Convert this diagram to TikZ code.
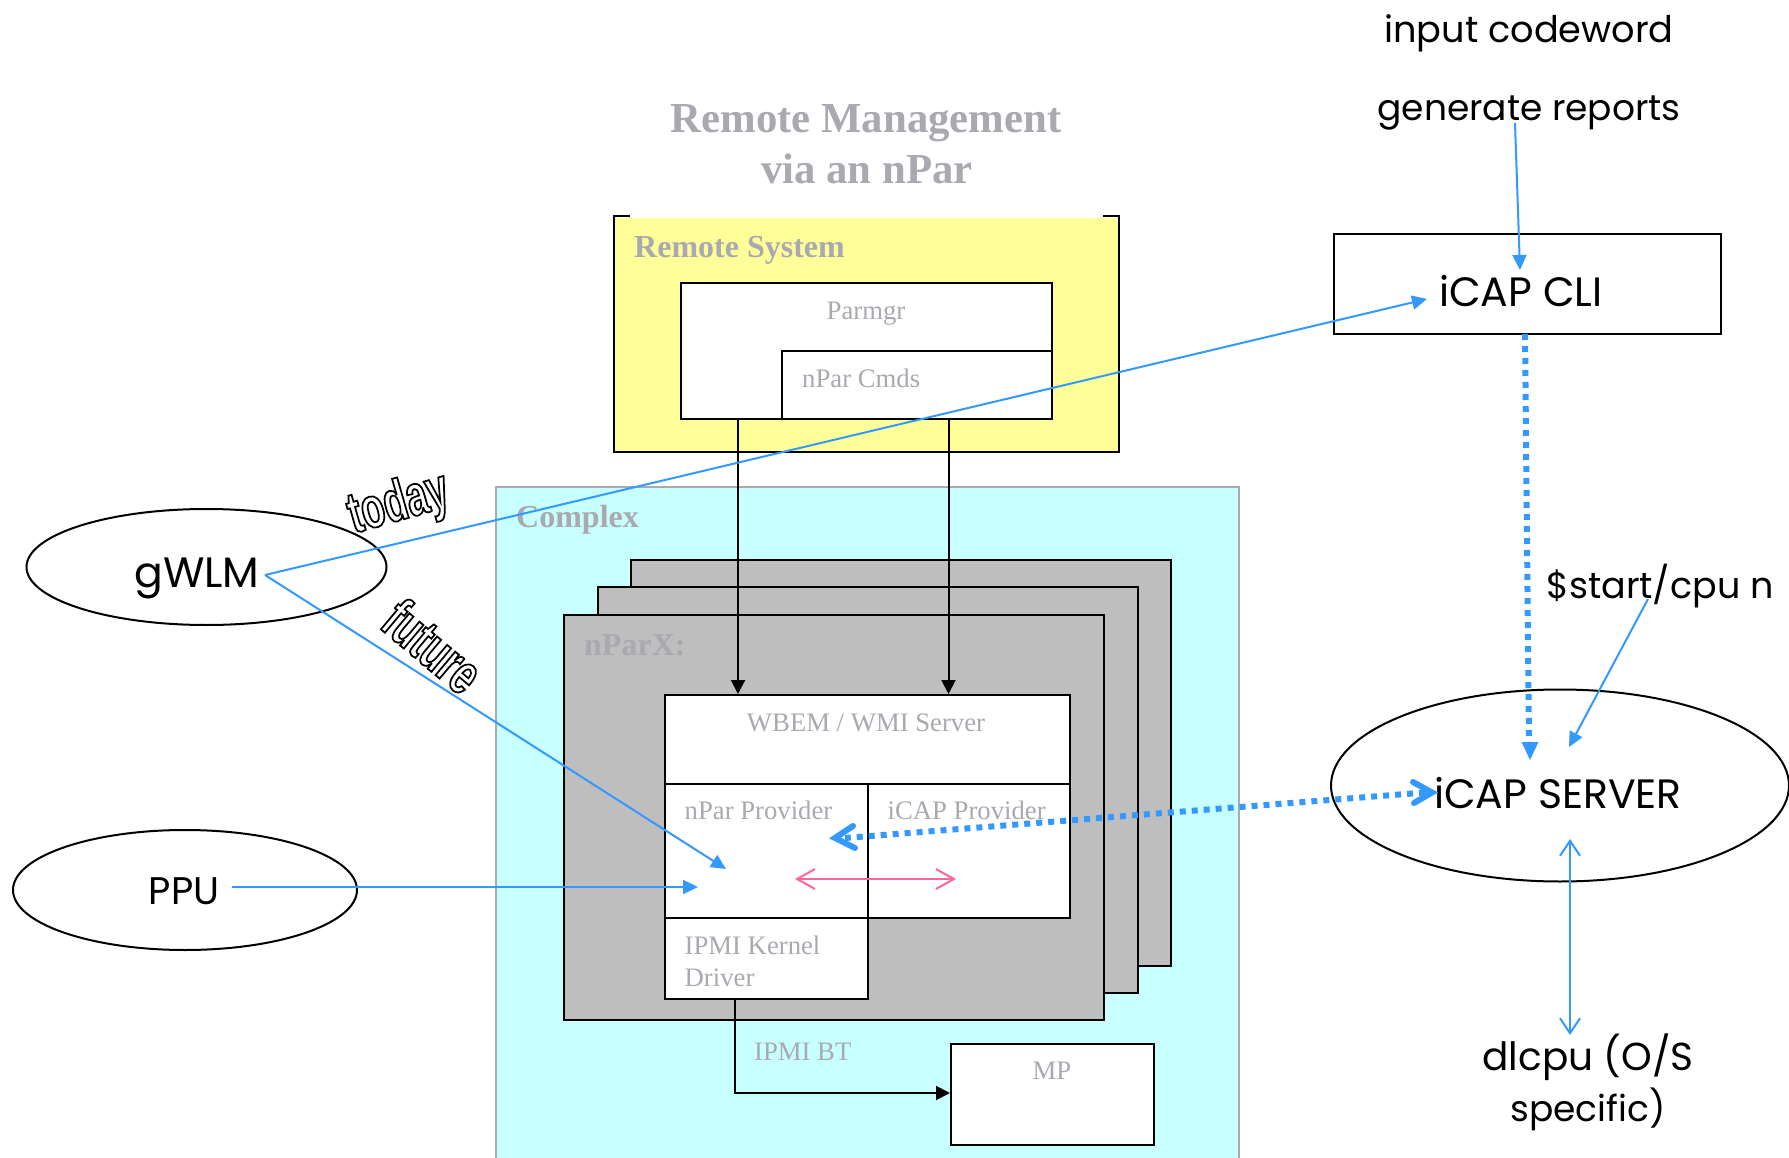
\documentclass[tikz,border=0pt]{standalone}
\usepackage{fontspec}
\setmainfont{Liberation Serif}
\newfontfamily\futfont{Poppins}
\newfontfamily\wordart[FakeBold=3,FakeStretch=0.66]{Liberation Sans Bold}
\usetikzlibrary{shapes.geometric,arrows.meta}
\definecolor{lblgray}{HTML}{A9A9B0}
\definecolor{arrblue}{HTML}{3399FF}
\definecolor{pinkline}{HTML}{FF6699}
\definecolor{cyanfill}{HTML}{C8FFFF}
\definecolor{yellowfill}{HTML}{FFFF99}
\definecolor{stackgray}{HTML}{BEBEBE}
\tikzset{
  rbox/.style={draw=black,line width=2pt,fill=white,rectangle,inner sep=0pt,anchor=north west},
  stackbox/.style={rbox,fill=stackgray},
  oval/.style={draw=black,line width=2pt,fill=none,ellipse,inner sep=0pt},
  small/.style={text=lblgray,font=\fontsize{26.7}{30}\selectfont,anchor=base west,inner sep=0pt},
  smallc/.style={small,anchor=base},
  heading/.style={text=lblgray,font=\fontsize{32}{36}\selectfont\bfseries,anchor=base west,inner sep=0pt},
  titletext/.style={text=lblgray,font=\fontsize{42.8}{48}\selectfont\bfseries,anchor=base,inner sep=0pt},
  big/.style={text=black,font=\fontsize{38}{44}\futfont,anchor=base,inner sep=0pt},
  outl/.style={inner sep=0pt,font=\fontsize{58}{60}\wordart},
  solidtip/.style={-{Triangle[length=15pt,width=14pt]}},
  blueln/.style={draw=arrblue,line width=2pt,solidtip},
  blackln/.style={draw=black,line width=2pt,-{Triangle[length=14pt,width=14pt]}},
  dotln/.style={draw=arrblue,line width=6pt,dash pattern=on 6pt off 6pt},
  openblue/.style={draw=arrblue,line width=2pt,{Straight Barb[length=15pt,width=20pt]}-{Straight Barb[length=15pt,width=20pt]}},
  openpink/.style={draw=pinkline,line width=2pt,{Straight Barb[length=18pt,width=20pt]}-{Straight Barb[length=18pt,width=20pt]}},
}
\begin{document}
\begin{tikzpicture}[x=1pt,y=-1pt]
\useasboundingbox (0,0) rectangle (1789,1158);
% title
\node[titletext] (t1) at (866,133) {Remote Management};
\node[titletext] (t2) at (867,184) {via an nPar};
% remote system
\node[rbox,draw=none,fill=yellowfill,minimum width=505pt,minimum height=235pt] (remote) at (614,217) {};
\draw[line width=2pt] (630,216.5) -- (613.5,216.5) -- (613.5,452) -- (1119,452) -- (1119,216.5) -- (1103,216.5);
\node[heading] (remotet) at (634,258) {Remote System};
\node[rbox,minimum width=371pt,minimum height=135pt] (parmgr) at (680,282.5) {};
\node[rbox,minimum width=270pt,minimum height=68pt] (npcmds) at (781,350) {};
\node[smallc] (parmgrt) at (866,320) {Parmgr};
\node[small] (npcmdst) at (802,388) {nPar Cmds};
% complex
\node[rbox,draw=lblgray,fill=cyanfill,minimum width=743pt,minimum height=700pt] (complex) at (494.5,485.5) {};
\node[heading] (complext) at (516,527) {Complex};
\node[stackbox,minimum width=540pt,minimum height=406pt] (st3) at (629.5,558.5) {};
\node[stackbox,minimum width=540pt,minimum height=406pt] (st2) at (596.5,585.5) {};
\node[stackbox,minimum width=540pt,minimum height=405pt] (st1) at (562.5,613.5) {};
\node[heading] (npx) at (584,655) {nParX:};
\node[rbox,minimum width=405pt,minimum height=89pt] (wbem) at (663.5,693.5) {};
\node[rbox,minimum width=203pt,minimum height=134pt] (npprov) at (663.5,782.5) {};
\node[rbox,minimum width=202pt,minimum height=134pt] (icprov) at (866.5,782.5) {};
\node[rbox,minimum width=203pt,minimum height=81pt] (ipmi) at (663.5,916.5) {};
\node[rbox,minimum width=203pt,minimum height=101pt] (mp) at (950,1042.5) {};
\node[smallc] (wbemt) at (866,731) {WBEM / WMI Server};
\node[small] (nppt) at (684.5,819) {nPar Provider};
\node[small] (icpt) at (887.5,819) {iCAP Provider};
\node[small] (ipmit1) at (684.5,954) {IPMI Kernel};
\node[small] (ipmit2) at (684.5,986) {Driver};
\node[small] (ipmibt) at (754,1060) {IPMI BT};
\node[smallc] (mpt) at (1052,1079) {MP};
% right and left
\node[rbox,minimum width=387pt,minimum height=100pt] (cli) at (1332.5,233.5) {};
\node[big,font=\fontsize{41}{44}\futfont] (clit) at (1521,307) {iCAP CLI};
\node[oval,minimum width=360pt,minimum height=116pt] (gwlm) at (206.5,567) {};
\node[big,font=\fontsize{42.5}{44}\futfont] (gwlmt) at (197,587) {gWLM};
\node[oval,minimum width=344pt,minimum height=120pt] (ppu) at (185,890) {};
\node[big,font=\fontsize{38.5}{44}\futfont] (pput) at (184,904) {PPU};
\node[oval,minimum width=458pt,minimum height=192pt] (server) at (1560,785.5) {};
\node[big,font=\fontsize{41}{44}\futfont] (servert) at (1558,808) {iCAP SERVER};
\node[big,font=\fontsize{36.7}{44}\futfont] (inp) at (1529,43) {input codeword};
\node[big,font=\fontsize{36}{44}\futfont] (gen) at (1529,121) {generate reports};
\node[big,font=\fontsize{36.5}{44}\futfont] (start) at (1660,598) {\$start/cpu n};
\node[big,font=\fontsize{39}{44}\futfont] (dl1) at (1588,1070) {dlcpu (O/S};
\node[big,font=\fontsize{36}{44}\futfont] (dl2) at (1588,1121) {specific)};
% wordart
\node[outl,rotate=16] (today) at (399,505) {\special{pdf:code 0 0 0 RG 1 1 1 rg}today};
\node[outl,rotate=-40] (future) at (433,646) {\special{pdf:code 0 0 0 RG 1 1 1 rg}future};
% anchor points
\coordinate (gwlmS) at (265,575);
\coordinate (cliE) at (1427,299);
\coordinate (futE) at (726,869);
\coordinate (ppuS) at (232,887);
\coordinate (ppuE) at (698,887);
\coordinate (genS) at (1515,123);
\coordinate (genE) at (1520,270);
\coordinate (cliS) at (1525,334);
\coordinate (srvE) at (1530,760);
\coordinate (startS) at (1648,599);
\coordinate (startE) at (1569,747);
\coordinate (pL) at (795,879);
\coordinate (pR) at (956,879);
\coordinate (dlT) at (1570,839);
\coordinate (dlB) at (1570,1035);
\coordinate (parmS) at (738,419);
\coordinate (parmE) at (738,694);
\coordinate (cmdS) at (948.5,419);
\coordinate (cmdE) at (948.5,694);
\coordinate (ipS) at (735,998);
\coordinate (ipM) at (735,1093);
\coordinate (mpW) at (950,1093);
% connectors
\draw[blackln] (parmS) -- (parmE);
\draw[blackln] (cmdS) -- (cmdE);
\draw[blackln] (ipS) -- (ipM) -- (mpW);
\draw[blueln] (gwlmS) -- (cliE);
\draw[blueln] (gwlmS) -- (futE);
\draw[blueln] (ppuS) -- (ppuE);
\draw[blueln] (genS) -- (genE);
\draw[blueln] (startS) -- (startE);
\draw[dotln] (cliS) -- (1529,745);
\draw[draw=none,fill=arrblue] (srvE) -- ++(-8.5,-18) -- ++(17,0) -- cycle;
\draw[dotln] (1425,792.5) -- (845,838);
\draw[draw=arrblue,line width=6pt,line cap=round,line join=miter] (1413,782) -- (1432,792.5) -- (1414,803);
\draw[draw=arrblue,line width=6pt,line cap=round,line join=miter] (853,826) -- (835,838) -- (855,848);
\draw[openpink] (pL) -- (pR);
\draw[openblue] (dlT) -- (dlB);
\end{tikzpicture}
\end{document}
